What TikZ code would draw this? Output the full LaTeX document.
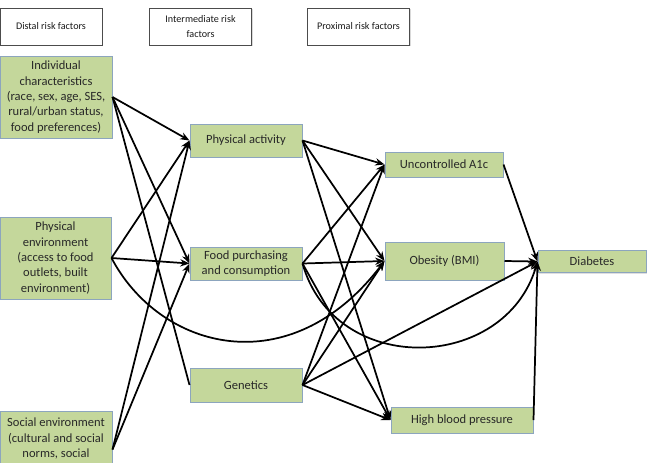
\documentclass[tikz,border=0pt]{standalone}
\usepackage{fontspec}
\setmainfont{Carlito}
\usetikzlibrary{arrows.meta,shadows}

\definecolor{boxgreen}{RGB}{196,215,155}
\definecolor{boxline}{RGB}{140,165,190}
\definecolor{txtgray}{RGB}{40,40,40}

\tikzset{every picture/.style={line width=0.75pt}}
\tikzset{
  factor/.style={draw=boxline, fill=boxgreen, text=txtgray, align=center, inner sep=1pt,
    font=\fontsize{9.4}{11.5}\selectfont,
    drop shadow={shadow xshift=0.8pt, shadow yshift=-0.8pt, opacity=0.25}},
  header/.style={draw=black!70, fill=white, text=black!90, align=center, inner sep=1pt,
    font=\fontsize{7.6}{11.2}\selectfont,
    drop shadow={shadow xshift=0.8pt, shadow yshift=-0.8pt, opacity=0.3}},
  link/.style={line width=1.3pt, -{Stealth[length=7pt,width=5.5pt]}},
  plainlink/.style={line width=1.3pt},
}

\begin{document}
\begin{tikzpicture}[x=0.75pt,y=0.75pt,yscale=-1,xscale=1]
\useasboundingbox (0,0) rectangle (648,462);
\clip (0,0) rectangle (648,462);

% Text Node
\node [header, minimum width=76.5pt, minimum height=27.75pt] (hdistal) at (51,26.5) {Distal risk factors};
% Text Node
\node [header, minimum width=77pt, minimum height=27.75pt] (hinter) at (200.5,26.5) {Intermediate risk\\factors};
% Text Node
\node [header, minimum width=77pt, minimum height=27.75pt] (hproximal) at (358.5,26.5) {Proximal risk factors};

% Distal
\node [factor, minimum width=84pt, minimum height=61.5pt] (indiv) at (56,97) {Individual\\characteristics\\(race, sex, age, SES,\\rural/urban status,\\food preferences)};
\node [factor, minimum width=83.25pt, minimum height=61.5pt] (physenv) at (55.5,258) {Physical\\environment\\(access to food\\outlets, built\\environment)};
\node [factor, anchor=north, minimum width=84pt, inner ysep=5pt] (socialenv) at (56,411) {Social environment\\(cultural and social\\norms, social\\[6pt]\mbox{}};

% Intermediate
\node [factor, minimum width=84pt, minimum height=24.75pt] (physact) at (246,140.5) {Physical activity};
\node [factor, minimum width=84pt, minimum height=24.75pt] (foodpc) at (246,263.5) {Food purchasing\\and consumption};
\node [factor, minimum width=84pt, minimum height=25.5pt] (genetics) at (246,385) {Genetics};

% Proximal
\node [factor, minimum width=88.5pt, minimum height=18.75pt] (aonec) at (444,164.5) {Uncontrolled A1c};
\node [factor, minimum width=89.25pt, minimum height=28.5pt] (obesity) at (444.5,261) {Obesity (BMI)};
\node [factor, minimum width=106.5pt, minimum height=19.5pt] (hbp) at (462,420) {High blood pressure};

% Outcome
\node [factor, minimum width=81pt, minimum height=16.5pt] (diabetes) at (592,261.5) {Diabetes};

%Straight Lines
\draw [link] (indiv.east) -- (physact.west);
\draw [link] (indiv.east) -- (foodpc.west);
\draw [plainlink] (indiv.east) -- (genetics.west);
\draw [link] (physenv.east) -- (physact.west);
\draw [link] (physenv.east) -- (foodpc.west);
\draw [link] (socialenv.east) -- (physact.west);
\draw [link] (socialenv.east) -- (foodpc.west);
%Curve Lines
\draw [link] (physenv.east) .. controls (160,350) and (290,385) .. (obesity.west);

%Straight Lines
\draw [link] (physact.east) -- (aonec.west);
\draw [link] (physact.east) -- (obesity.west);
\draw [link] (physact.east) -- (hbp.west);
\draw [link] (foodpc.east) -- (aonec.west);
\draw [link] (foodpc.east) -- (obesity.west);
\draw [link] (foodpc.east) -- (hbp.west);
\draw [link] (genetics.east) -- (aonec.west);
\draw [link] (genetics.east) -- (obesity.west);
\draw [link] (genetics.east) -- (hbp.west);
\draw [link] (genetics.east) -- (diabetes.west);
%Curve Lines
\draw [link] (foodpc.east) .. controls (335,378) and (505,372) .. (diabetes.west);

%Straight Lines
\draw [link] (aonec.east) -- (diabetes.west);
\draw [link] (obesity.east) -- (diabetes.west);
\draw [link] (hbp.east) -- (diabetes.west);

\end{tikzpicture}
\end{document}
